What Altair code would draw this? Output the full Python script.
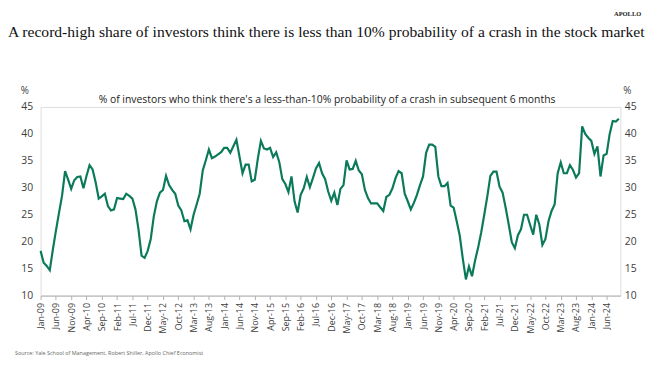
import altair as alt
import pandas as pd

title_text = "A record-high share of investors think there is less than 10% probability of a crash in the stock market"
subtitle_text = "% of investors who think there's a less-than-10% probability of a crash in subsequent 6 months"
source_text = "Source: Yale School of Management, Robert Shiller, Apollo Chief Economist"
brand_text = "APOLLO"

# monthly values, Jan-2009 .. Oct-2024
values = [
    18.3, 16.1, 15.5, 14.7, 18.5, 22.0, 25.3, 28.5, 33.1, 31.5, 29.8, 31.4,  # 2009
    32.0, 32.1, 29.9, 32.2, 34.2, 33.4, 31.0, 28.0, 28.4, 28.9, 26.6, 25.8,  # 2010
    26.0, 28.1, 28.0, 27.9, 28.9, 28.5, 28.0, 26.0, 22.3, 17.4, 17.0, 18.3,  # 2011
    20.5, 24.7, 27.5, 29.1, 29.6, 32.2, 30.5, 29.6, 28.9, 26.7, 25.8, 23.8,  # 2012
    24.0, 22.3, 25.0, 26.9, 28.9, 33.2, 35.1, 37.1, 35.5, 35.8, 36.2, 36.6,  # 2013
    37.4, 37.4, 36.5, 37.7, 38.9, 35.8, 32.7, 34.3, 34.3, 31.2, 31.5, 35.4,  # 2014
    38.7, 37.3, 37.1, 37.4, 35.7, 36.6, 34.8, 31.6, 30.7, 29.2, 32.1, 27.5,  # 2015
    25.4, 28.7, 29.9, 32.0, 30.1, 31.8, 33.6, 34.6, 32.7, 31.6, 29.3, 27.6,  # 2016
    29.1, 26.8, 29.8, 30.5, 35.1, 33.4, 33.5, 35.0, 33.2, 32.5, 29.6, 28.1,  # 2017
    27.1, 27.1, 27.1, 26.4, 25.7, 28.3, 28.7, 29.9, 31.8, 33.1, 32.7, 28.9,  # 2018
    27.5, 26.0, 27.2, 28.7, 30.5, 32.1, 36.5, 38.0, 38.0, 37.6, 32.1, 30.3,  # 2019
    30.3, 30.9, 26.7, 26.3, 23.8, 21.1, 16.8, 13.0, 15.4, 13.6, 16.5, 18.9,  # 2020
    21.7, 25.0, 28.4, 32.2, 33.0, 33.0, 30.2, 29.1, 26.3, 23.2, 19.9, 18.8,  # 2021
    21.2, 22.3, 25.0, 25.0, 23.1, 21.3, 25.0, 23.2, 19.4, 20.5, 23.8, 25.7,  # 2022
    26.9, 32.7, 34.7, 32.7, 32.7, 34.2, 33.3, 31.9, 32.7, 41.4, 40.0, 39.3,  # 2023
    38.7, 36.3, 37.7, 32.1, 36.0, 36.3, 40.0, 42.4, 42.3, 42.8,              # 2024
]

tick_labels = [
    "Jan-09", "Jun-09", "Nov-09", "Apr-10", "Sep-10", "Feb-11", "Jul-11", "Dec-11",
    "May-12", "Oct-12", "Mar-13", "Aug-13", "Jan-14", "Jun-14", "Nov-14", "Apr-15",
    "Sep-15", "Feb-16", "Jul-16", "Dec-16", "May-17", "Oct-17", "Mar-18", "Aug-18",
    "Jan-19", "Jun-19", "Nov-19", "Apr-20", "Sep-20", "Feb-21", "Jul-21", "Dec-21",
    "May-22", "Oct-22", "Mar-23", "Aug-23", "Jan-24", "Jun-24",
]
y_ticks = [10, 15, 20, 25, 30, 35, 40, 45]

df = pd.DataFrame({"m": list(range(len(values))), "v": values})
tick_pos = [5 * i for i in range(len(tick_labels))]
label_expr = "[" + ",".join("'" + t + "'" for t in tick_labels) + "][round(datum.value/5)]"

W, H = 587, 191
LINE = "#0b7a5a"
TXT = "#404040"

xaxis = alt.Axis(values=tick_pos, labelExpr=label_expr, labelAngle=270,
                 labelAlign="right", labelBaseline="middle", labelFontSize=9,
                 labelColor=TXT, labelFont="Open Sans", labelPadding=3,
                 labelOverlap=False, labelBound=False,
                 domainColor="#b0b0b0", tickColor="#b0b0b0", tickSize=4,
                 grid=False, title=None)
xscale = alt.Scale(domain=[0, 189.5], nice=False, zero=False)


def xenc():
    return alt.X("m:Q", scale=xscale, axis=xaxis)


line = alt.Chart(df).mark_line(color=LINE, strokeWidth=2.2).encode(
    x=xenc(),
    y=alt.Y("v:Q", scale=alt.Scale(domain=[10, 45], nice=False, zero=False),
            axis=alt.Axis(values=y_ticks, orient="left", domain=False, ticks=False, grid=False,
                          labelFontSize=10.5, labelColor=TXT, labelFont="Open Sans",
                          labelPadding=8, title=None)),
)

right = alt.Chart(df).mark_line(opacity=0).encode(
    x=xenc(),
    y=alt.Y("v:Q", scale=alt.Scale(domain=[10, 45], nice=False, zero=False),
            axis=alt.Axis(values=y_ticks, orient="right", domain=False, ticks=False, grid=False,
                          labelFontSize=10.5, labelColor=TXT, labelFont="Open Sans",
                          labelPadding=4, title=None)),
)


def txt(s, x, y, size, font, align="left", color=TXT, weight="normal", base="alphabetic"):
    return alt.Chart(pd.DataFrame({"t": [s]})).mark_text(
        align=align, baseline=base, fontSize=size, font=font, color=color, fontWeight=weight
    ).encode(x=alt.value(x), y=alt.value(y), text="t:N")


title = txt(title_text, -33, -71, 15.8, "Liberation Serif", color="#111111")
brand = txt(brand_text, 608, -92, 6.5, "Liberation Serif", align="right", color="#222222", weight="bold")
sub = txt(subtitle_text, 290, -4, 10.5, "Open Sans", align="center", color="#222222")
pl = txt("%", -16, -13, 10, "Open Sans", align="center")
pr = txt("%", 594, -13, 10, "Open Sans", align="center")
src = txt(source_text, -26, 251, 5.5, "Open Sans", color="#666666")

chart = alt.layer(line, right, title, brand, sub, pl, pr, src).resolve_scale(y="independent").properties(
    width=W, height=H, autosize="none",
    padding={"left": 33, "top": 98, "right": 33, "bottom": 60},
).configure_view(strokeWidth=0).configure(background="white")

chart.save("out.html", embed_options={"renderer": "svg", "actions": False})
